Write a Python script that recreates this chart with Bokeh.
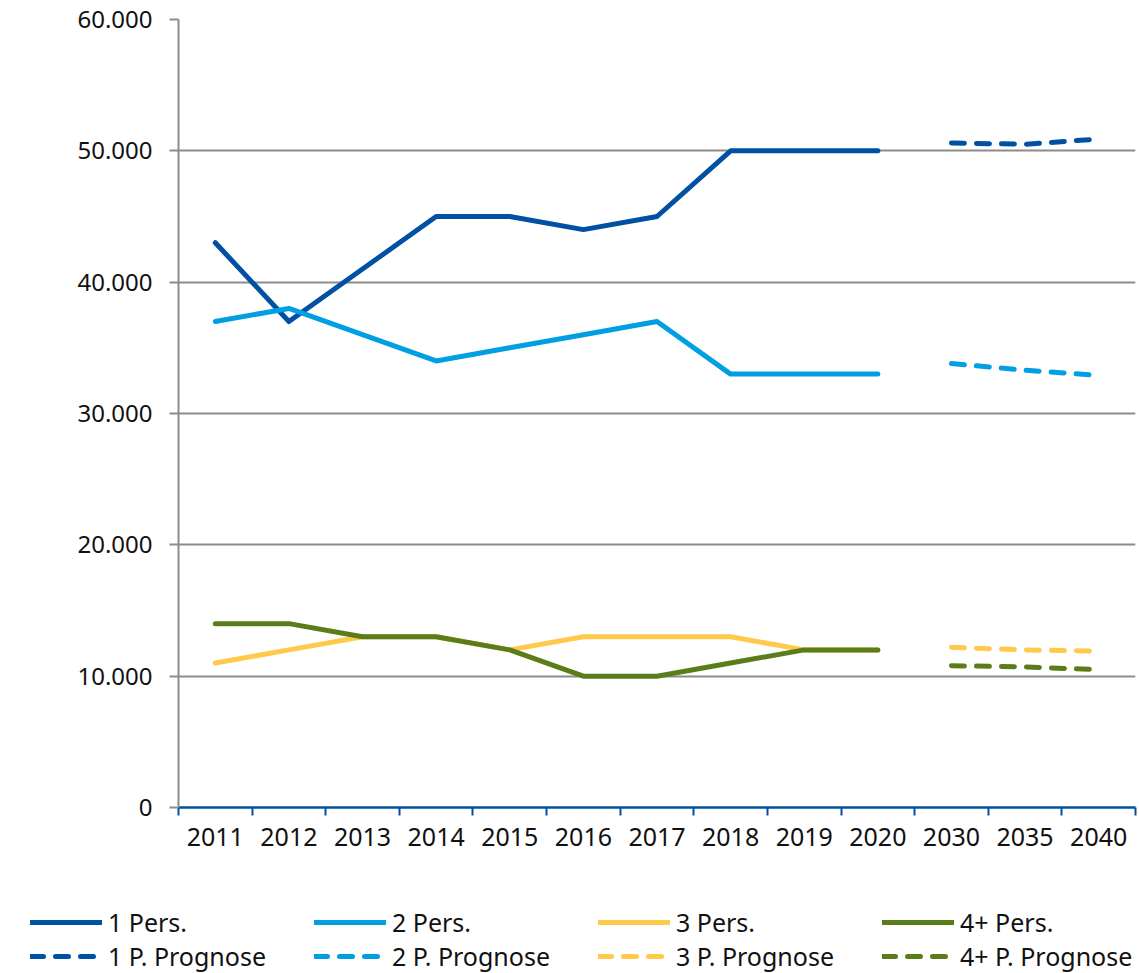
from bokeh.plotting import figure
from bokeh.models import FixedTicker, Legend, LegendItem, Range1d
from bokeh.embed import file_html
from bokeh.resources import INLINE

years = ["2011", "2012", "2013", "2014", "2015", "2016", "2017", "2018", "2019", "2020", "2030", "2035", "2040"]
hist_years = years[:10]
prog_years = years[10:]

p1_hist = [43000, 37000, 41000, 45000, 45000, 44000, 45000, 50000, 50000, 50000]
p2_hist = [37000, 38000, 36000, 34000, 35000, 36000, 37000, 33000, 33000, 33000]
p3_hist = [11000, 12000, 13000, 13000, 12000, 13000, 13000, 13000, 12000, 12000]
p4_hist = [14000, 14000, 13000, 13000, 12000, 10000, 10000, 11000, 12000, 12000]

p1_prog = [50600, 50500, 50900]
p2_prog = [33800, 33300, 32900]
p3_prog = [12200, 12000, 11900]
p4_prog = [10800, 10700, 10500]

y_ticks = [0, 10000, 20000, 30000, 40000, 50000, 60000]

hist_names = ["1 Pers.", "2 Pers.", "3 Pers.", "4+ Pers."]
prog_names = ["1 P. Prognose", "2 P. Prognose", "3 P. Prognose", "4+ P. Prognose"]

colors = ["#0050A3", "#009FE3", "#FFC94C", "#5A7D1A"]
FONT = "Noto Sans"
LW = 5
DASH = "13 12"

def xpos(labels):
    return [years.index(y) + 0.5 for y in labels]

p = figure(width=1137, height=870, output_backend="svg", toolbar_location=None,
           x_range=Range1d(0, len(years)), y_range=Range1d(0, 60000),
           min_border_left=178, min_border_right=2, min_border_top=19, min_border_bottom=63)
p.outline_line_color = None

hist = [p1_hist, p2_hist, p3_hist, p4_hist]
prog = [p1_prog, p2_prog, p3_prog, p4_prog]

for vals, c in zip(hist, colors):
    p.line(xpos(hist_years), vals, line_color=c, line_width=LW, line_join="round", line_cap="round")
for vals, c in zip(prog, colors):
    p.line(xpos(prog_years), vals, line_color=c, line_width=LW, line_dash=DASH, line_cap="round")

centers = [i + 0.5 for i in range(len(years))]
bounds = list(range(len(years) + 1))
p.xaxis.ticker = FixedTicker(ticks=centers, minor_ticks=bounds)
p.xaxis.major_label_overrides = {c: y for c, y in zip(centers, years)}
p.xaxis.major_tick_in = 0
p.xaxis.major_tick_out = 0
p.xaxis.minor_tick_in = 0
p.xaxis.minor_tick_out = 8
p.xaxis.minor_tick_line_color = "#0050A3"
p.xaxis.minor_tick_line_width = 2
p.xaxis.axis_line_color = "#0050A3"
p.xaxis.axis_line_width = 2.5
p.xaxis.major_label_standoff = 12
p.xaxis.major_label_text_font = FONT
p.xaxis.major_label_text_font_size = "25px"
p.xaxis.major_label_text_color = "#111111"
p.xgrid.visible = False

p.yaxis.ticker = FixedTicker(ticks=y_ticks, minor_ticks=[])
p.yaxis.major_label_overrides = {t: (f"{t:,}".replace(",", ".")) for t in y_ticks}
p.yaxis.major_tick_in = 0
p.yaxis.major_tick_out = 9
p.yaxis.major_tick_line_color = "#8C8C8C"
p.yaxis.major_tick_line_width = 2
p.yaxis.axis_line_color = "#8C8C8C"
p.yaxis.axis_line_width = 2
p.yaxis.major_label_standoff = 17
p.yaxis.major_label_text_font = FONT
p.yaxis.major_label_text_font_size = "24px"
p.yaxis.major_label_text_color = "#111111"
p.ygrid.grid_line_color = "#8C8C8C"
p.ygrid.grid_line_width = 2

# legend figure (separate root so its frame is not aligned to the chart frame)
lg = figure(width=1137, height=103, output_backend="svg", toolbar_location=None,
            x_range=Range1d(0, 1), y_range=Range1d(0, 1),
            x_axis_location=None, y_axis_location=None,
            min_border_left=0, min_border_right=0, min_border_top=0, min_border_bottom=0)
lg.outline_line_color = None
lg.xgrid.visible = False
lg.ygrid.visible = False

items = []
for n, c in zip(hist_names, colors):
    r = lg.line([0, 0], [float("nan"), float("nan")], line_color=c, line_width=LW, line_cap="round")
    items.append(LegendItem(label=n, renderers=[r]))
for n, c in zip(prog_names, colors):
    r = lg.line([0, 0], [float("nan"), float("nan")], line_color=c, line_width=LW, line_dash=DASH, line_cap="round")
    items.append(LegendItem(label=n, renderers=[r]))

legend = Legend(items=items, ncols=4, orientation="horizontal",
                label_text_font=FONT, label_text_font_size="25px", label_text_color="#111111",
                glyph_width=72, glyph_height=26, label_standoff=6, label_width=206, label_height=26,
                spacing=-6, padding=0, margin=0, border_line_color=None, background_fill_alpha=0,
                location=(30, 0))
lg.add_layout(legend, "center")

open("out.html", "w").write(file_html([p, lg], INLINE))
